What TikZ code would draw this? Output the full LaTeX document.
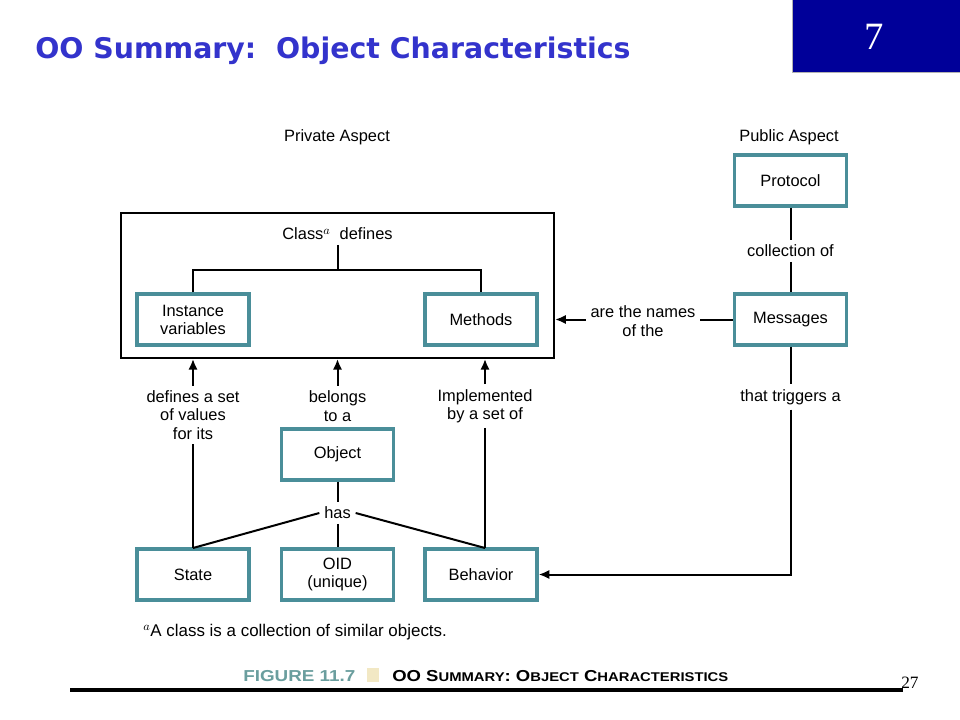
\documentclass[tikz,border=0pt]{standalone}
\usepackage{fontspec}
\setmainfont{Liberation Sans}
\newfontfamily\titlefont{DejaVu Sans}
\newfontfamily\seriffont{Liberation Serif}
\usetikzlibrary{arrows.meta}
\definecolor{titleblue}{HTML}{3333CC}
\definecolor{navy}{HTML}{000099}
\definecolor{tealbox}{HTML}{4A8E99}
\definecolor{figteal}{HTML}{6A9E9E}
\definecolor{cream}{HTML}{F2E8C4}
\tikzset{
  obox/.style={draw=tealbox, line width=2.6pt, minimum width=84pt, minimum height=38pt, inner sep=0pt, align=center, font=\fontsize{12.3}{13.5}\selectfont},
  lbl/.style={align=center, inner sep=3.5pt, font=\fontsize{12.3}{13.8}\selectfont},
  conn/.style={line width=1.5pt, black},
  arr/.style={conn, -{Latex[length=8pt,width=7pt]}},
}
\begin{document}
\begin{tikzpicture}[x=0.75pt,y=-0.75pt]
\useasboundingbox (0,0) rectangle (960,720);
\fill[white] (0,0) rectangle (960,720);
% header
\node[anchor=base west, inner sep=0pt, text=titleblue, font=\titlefont\bfseries\fontsize{21.3}{24}\selectfont] (title) at (35,59) {OO Summary:\ \ Object Characteristics};
\fill[navy] (792,0) rectangle (960,72);
\draw[gray!60, line width=0.6pt] (792,0) -- (792,72) -- (960,72);
\node[text=white, font=\seriffont\fontsize{29}{31}\selectfont] (num) at (874,37) {7};
% aspect labels
\node[lbl] (priv) at (337,137) {Private Aspect};
\node[lbl] (pub) at (789,137) {Public Aspect};
% class box
\node[draw, line width=1.5pt, minimum width=325pt, minimum height=108.75pt, inner sep=0pt] (cls) at (337.5,285.5) {};
\node[lbl] (clsdef) at (337.5,234) {Class$^{a}$\ \ defines};
% boxes
\node[obox] (inst) at (193,319.5) {Instance\\variables};
\node[obox] (meth) at (481,319.5) {Methods};
\node[obox] (prot) at (790.5,180.5) {Protocol};
\node[obox] (msg) at (790.5,319.5) {Messages};
\node[obox] (obj) at (337.5,454.5) {Object};
\node[obox] (state) at (193,574.5) {State};
\node[obox] (oid) at (337.5,574.5) {OID\\(unique)};
\node[obox] (beh) at (481,574.5) {Behavior};
% class defines tree
\coordinate (tj) at (337.5,270);
\draw[conn] (clsdef.south) -- (tj);
\draw[conn] (inst.north) |- (tj) -| (meth.north);
% protocol - messages
\node[lbl] (coll) at (790.5,251) {collection of};
\draw[conn] (prot.south) -- (coll.north);
\draw[conn] (coll.south) -- (msg.north);
% are the names of the
\node[lbl] (names) at (643,321) {are the names\\of the};
\draw[conn] (msg.west) -- (names.east |- msg.west);
\draw[arr] (names.west |- msg.west) -- (cls.east |- msg.west);
% that triggers a
\node[lbl] (trig) at (790.5,397) {that triggers a};
\draw[conn] (msg.south) -- (trig.north);
\draw[arr] (trig.south) |- (beh.east);
% labels below class box
\node[lbl] (defs) at (193,415) {defines a set\\of values\\for its};
\node[lbl] (belong) at (337.5,406) {belongs\\to a};
\node[lbl] (impl) at (485,406) {Implemented\\by a set of};
\draw[arr] (defs.north) -- (defs.north |- cls.south);
\draw[arr] (belong.north) -- (belong.north |- cls.south);
\draw[arr] (impl.north) -- (impl.north |- cls.south);
% has
\node[lbl] (has) at (337.5,513) {has};
\coordinate (stt) at (193,548);
\coordinate (beht) at (485,548);
\draw[conn] (defs.south) -- (stt);
\draw[conn] (impl.south) -- (beht);
\draw[conn] (obj.south) -- (has.north);
\draw[conn] (has.south) -- (oid.north);
\draw[conn] (has.west) -- (stt);
\draw[conn] (has.east) -- (beht);
% footnote
\node[anchor=base west, inner sep=0pt, font=\fontsize{12.7}{14}\selectfont] (foot) at (143,636) {$^{a}$A class is a collection of similar objects.};
% figure caption
\node[anchor=base west, inner sep=0pt, text=figteal, font=\bfseries\fontsize{11}{12}\selectfont] (fig) at (243,681) {\resizebox{84pt}{8.3pt}{FIGURE 11.7}};
\fill[cream] (367,668) rectangle (379,682);
\node[anchor=base west, inner sep=0pt, font=\bfseries\fontsize{11}{12}\selectfont] (figt) at (392,681) {\resizebox{252pt}{8.3pt}{OO S{\fontsize{8.8}{10}\selectfont UMMARY}: O{\fontsize{8.8}{10}\selectfont BJECT} C{\fontsize{8.8}{10}\selectfont HARACTERISTICS}}};
% bottom rule and page number
\node[anchor=base west, inner sep=0pt, font=\seriffont\fontsize{13}{14}\selectfont] (pg) at (901,688) {27};
\draw[line width=2.4pt] (70,690) -- (903,690);
\end{tikzpicture}
\end{document}
